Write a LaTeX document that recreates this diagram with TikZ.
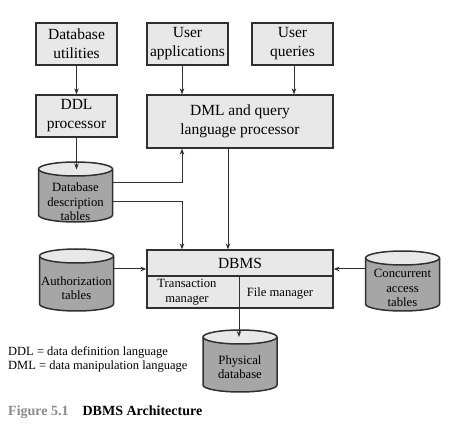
\documentclass[tikz,border=0pt]{standalone}
\usepackage{fontspec}
\setmainfont{Liberation Serif}
\usetikzlibrary{arrows.meta,calc}
\definecolor{boxfill}{HTML}{E8E8E8}
\definecolor{cylfill}{HTML}{A6A6A6}
\definecolor{linec}{HTML}{303030}
\definecolor{capgray}{HTML}{8A8A8A}
\tikzset{
  box/.style={draw=linec, line width=1.2pt, fill=boxfill, inner sep=0pt, align=center,
    font=\fontsize{15.5}{19}\selectfont},
  cyltext/.style={inner sep=0pt, align=center, font=\fontsize{12.7}{14.5}\selectfont},
  cylarea/.style={inner sep=0pt, draw=none},
  smalltext/.style={inner sep=0pt, align=center, font=\fontsize{12.6}{15}\selectfont},
  arr/.style={draw=linec, line width=1pt, -{Stealth[length=6pt,width=4.5pt]}},
  ln/.style={draw=linec, line width=1pt},
  legend/.style={inner sep=0pt, anchor=west, font=\fontsize{12.5}{15}\selectfont},
}
% #1 name, #2 x centre, #3 top y, #4 bottom y, #5 text y, #6 text
\newcommand\dbcylinder[6]{%
  \def\crx{37}\def\cry{7}%
  \fill[cylfill] ({#2-\crx},{#3+\cry}) -- ({#2-\crx},{#4-\cry})
     arc[start angle=180, end angle=0, x radius=\crx, y radius=\cry]
     -- ({#2+\crx},{#3+\cry}) -- cycle;
  \draw[linec, line width=1.5pt] ({#2-\crx},{#3+\cry}) -- ({#2-\crx},{#4-\cry})
     arc[start angle=180, end angle=0, x radius=\crx, y radius=\cry]
     -- ({#2+\crx},{#3+\cry});
  \draw[linec, line width=1.5pt, fill=boxfill] (#2,{#3+\cry}) ellipse[x radius=\crx, y radius=\cry];
  \node[cylarea, minimum width=74pt, minimum height={(#4-#3)*1pt}] (#1) at (#2,{(#3+#4)/2}) {};
  \node[cyltext] (#1-t) at (#2,#5) {#6};
}
\begin{document}
\begin{tikzpicture}[x=1pt,y=-1pt]
\useasboundingbox (0,0) rectangle (464,441);

% top boxes
\node[box, minimum width=81pt, minimum height=42pt] (util) at (76.5,44) {Database\\utilities};
\node[box, minimum width=81pt, minimum height=42pt] (uapp) at (187.5,44) {User\\applications};
\node[box, minimum width=81pt, minimum height=42pt] (uq) at (292.5,44) {User\\queries};
\node[box, minimum width=81pt, minimum height=42pt] (ddl) at (76.5,116) {DDL\\processor};
\node[box, minimum width=186pt, minimum height=53pt] (dml) at (240,121.5) {DML and query\\language processor};

% DBMS box
\node[box, minimum width=186pt, minimum height=58pt] (dbms) at (240,279) {};
\coordinate (divl) at (147,276);
\coordinate (divr) at (333,276);
\coordinate (divtop) at (239,276);
\draw[ln, line width=1.2pt] (divl) -- (divr);
\node[inner sep=0pt, font=\fontsize{15.5}{19}\selectfont] (dbmst) at (240,263) {DBMS};
\node[smalltext] (tm) at (187,292.5) {Transaction\\manager};
\node[smalltext] (fm) at (280,293) {File manager};

% cylinders
\dbcylinder{ddt}{75.5}{162}{222}{202}{Database\\description\\tables}
\dbcylinder{auth}{76.5}{249}{311}{288}{Authorization\\tables}
\dbcylinder{conc}{402.5}{251}{311}{288}{Concurrent\\access\\tables}
\dbcylinder{phys}{240}{330}{392}{367}{Physical\\database}

% helper x positions
\coordinate (xa) at (182,0);
\coordinate (xq) at (294,0);
\coordinate (xm) at (228,0);
\coordinate (ya) at (0,183);
\coordinate (yb) at (0,201.5);
\coordinate (yc) at (0,269);
\coordinate (physc) at (0,337);
\coordinate (ddtc) at (0,169.5);

% connectors
\draw[arr] (util) -- (ddl);
\draw[arr] (uapp.south -| xa) -- (dml.north -| xa);
\draw[arr] (uq.south -| xq) -- (dml.north -| xq);
\draw[arr] (ddl) -- (ddl.south |- ddtc);
\draw[arr] (ddt.east |- ya) -| (dml.south -| xa);
\draw[arr] (ddt.east |- yb) -| (dbms.north -| xa);
\draw[arr] (dml.south -| xm) -- (dbms.north -| xm);
\draw[arr] (auth.east |- yc) -- (dbms.west |- yc);
\draw[arr] (conc.west |- yc) -- (dbms.east |- yc);
\draw[arr] (divtop) -- (divtop |- physc);

% legend and caption
\node[legend] (leg1) at (8,352) {DDL = data definition language};
\node[legend] (leg2) at (8,367) {DML = data manipulation language};
\node[inner sep=0pt, anchor=west, font=\fontsize{14}{16}\selectfont\bfseries] (cap) at (8,412)
  {\textcolor{capgray}{Figure 5.1}\hspace{14pt}DBMS Architecture};
\end{tikzpicture}
\end{document}
